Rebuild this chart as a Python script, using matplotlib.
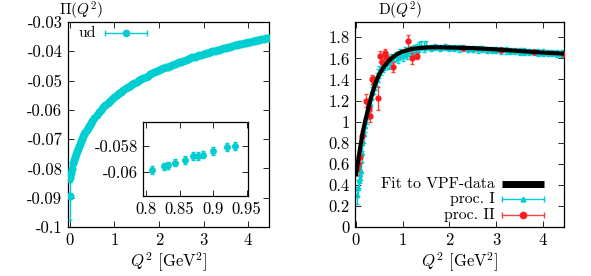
import numpy as np
import matplotlib
matplotlib.use('Agg')
import matplotlib.pyplot as plt
from matplotlib.ticker import FuncFormatter, FixedLocator

plt.rcParams['font.family'] = 'cmr10'
plt.rcParams['mathtext.fontset'] = 'cm'
plt.rcParams['axes.unicode_minus'] = False
plt.rcParams['font.size'] = 12

CYAN = '#00ced1'
RED = '#ff1a1a'

# ---- left panel: Pi(Q^2), ud ----
pi_q2 = [0.0, 0.0, 0.01, 0.03, 0.05, 0.08, 0.10, 0.12, 0.14, 0.16, 0.18, 0.2, 0.225, 0.25,
         0.275, 0.3, 0.325, 0.35, 0.375, 0.4, 0.425, 0.45, 0.475,
         0.5, 0.55, 0.6, 0.65, 0.7, 0.75, 0.8, 0.85, 0.9, 0.95, 1.0, 1.05, 1.1, 1.15, 1.2,
         1.25, 1.3, 1.35, 1.4, 1.45, 1.5, 1.55, 1.6, 1.65, 1.7, 1.75, 1.8, 1.85, 1.9, 1.95,
         2.0, 2.05, 2.1, 2.15, 2.2, 2.25, 2.3, 2.35, 2.4, 2.45, 2.5, 2.55, 2.6, 2.65, 2.7,
         2.75, 2.8, 2.85, 2.9, 2.95, 3.0, 3.05, 3.1, 3.15, 3.2, 3.25, 3.3, 3.35, 3.4, 3.45,
         3.5, 3.55, 3.6, 3.65, 3.7, 3.75, 3.8, 3.85, 3.9, 3.95, 4.0, 4.05, 4.1, 4.15, 4.2,
         4.25, 4.3, 4.35, 4.4, 4.47]
pi_val = [-0.0895, -0.0826, -0.0831, -0.0816, -0.0802, -0.0783, -0.0772, -0.0761, -0.0751,
          -0.0742, -0.0733, -0.0725, -0.0716, -0.0707, -0.0698, -0.0690, -0.0682, -0.0675,
          -0.0668, -0.0662, -0.0656, -0.0650, -0.0644,
          -0.0638, -0.0627, -0.0617, -0.0608, -0.0599, -0.0591, -0.0583, -0.0576, -0.0569,
          -0.0562, -0.0556, -0.0550, -0.0544, -0.0538, -0.0533, -0.0527, -0.0522, -0.0517,
          -0.0513, -0.0508, -0.0504, -0.0499, -0.0495, -0.0491, -0.0487, -0.0483, -0.0479,
          -0.0475, -0.0472, -0.0468, -0.0465, -0.0461, -0.0458, -0.0455, -0.0452, -0.0449,
          -0.0446, -0.0443, -0.0440, -0.0437, -0.0435, -0.0432, -0.0429, -0.0426, -0.0424,
          -0.0421, -0.0419, -0.0416, -0.0414, -0.0411, -0.0409, -0.0407, -0.0405, -0.0402,
          -0.0400, -0.0398, -0.0396, -0.0394, -0.0392, -0.0390, -0.0388, -0.0386, -0.0384,
          -0.0382, -0.0380, -0.0378, -0.0376, -0.0375, -0.0373, -0.0371, -0.0369, -0.0367,
          -0.0366, -0.0364, -0.0362, -0.0361, -0.0359, -0.0357, -0.0356, -0.0353]
pi_err = [0.0082, 0.0020, 0.0015, 0.0012, 0.0010] + [0.0006] * 98

# inset (zoom on 0.8 - 0.95)
in_q2 = [0.8085, 0.827, 0.833, 0.843, 0.858, 0.870, 0.877, 0.885, 0.900, 0.920, 0.933]
in_val = [-0.0599, -0.0596, -0.0595, -0.0593, -0.0591, -0.0588, -0.0588, -0.0587,
          -0.0584, -0.0581, -0.0580]
in_err = [0.0003, 0.00028, 0.00028, 0.00028, 0.00028, 0.00028, 0.00028, 0.00028,
          0.0003, 0.0003, 0.0003]

# ---- right panel: D(Q^2) ----
fit_q2 = [0.0, 0.05, 0.1, 0.15, 0.2, 0.25, 0.3, 0.35, 0.4, 0.45, 0.5, 0.6, 0.7, 0.8,
          0.9, 1.0, 1.2, 1.4, 1.6, 1.8, 2.0, 2.5, 3.0, 3.5, 4.0, 4.45]
fit_val = [0.50, 0.64, 0.78, 0.91, 1.01, 1.10, 1.19, 1.27, 1.34, 1.40, 1.45, 1.52,
           1.575, 1.615, 1.645, 1.665, 1.69, 1.70, 1.705, 1.705, 1.703, 1.697, 1.685,
           1.67, 1.655, 1.645]

p1_q2 = [0.02, 0.04, 0.06, 0.08, 0.10, 0.12, 0.14, 0.17, 0.20, 0.23, 0.26, 0.29, 0.32,
         0.35, 0.38, 0.41, 0.44, 0.47, 0.50, 0.54, 0.58, 0.62, 0.66, 0.70, 0.75, 0.80,
         0.85, 0.90, 0.95, 1.00, 1.05, 1.10, 1.15, 1.20, 1.25, 1.30, 1.35, 1.40, 1.45,
         1.50, 1.60, 1.70, 1.80, 1.90, 2.00, 2.10, 2.20, 2.30, 2.40, 2.50, 2.60, 2.70,
         2.80, 2.90, 3.00, 3.10, 3.20, 3.30, 3.40, 3.50, 3.60, 3.70, 3.80, 3.90, 4.00,
         4.10, 4.20, 4.30, 4.40, 4.45]
p1_val = [0.30, 0.37, 0.45, 0.50, 0.53, 0.70, 0.80, 0.88, 0.96, 1.04, 1.11, 1.17, 1.22,
          1.27, 1.32, 1.36, 1.40, 1.44, 1.47, 1.50, 1.53, 1.55, 1.57, 1.56, 1.60, 1.58,
          1.62, 1.60, 1.64, 1.62, 1.66, 1.64, 1.67, 1.66, 1.68, 1.69, 1.71, 1.72, 1.71,
          1.72, 1.70, 1.71, 1.70, 1.71, 1.70, 1.70, 1.695, 1.70, 1.69, 1.69, 1.685, 1.69,
          1.68, 1.68, 1.68, 1.675, 1.675, 1.67, 1.67, 1.665, 1.665, 1.66, 1.66, 1.655,
          1.655, 1.65, 1.65, 1.645, 1.645, 1.64]
p1_err = [0.08] * 8 + [0.06] * 16 + [0.045] * 16 + [0.03] * 30

p2_q2 = [0.03, 0.05, 0.085, 0.12, 0.21, 0.27, 0.30, 0.35, 0.37, 0.48, 0.51, 0.55, 0.62,
         0.64, 0.80, 1.12, 1.19, 1.30, 2.3, 3.1, 3.8, 4.45]
p2_val = [0.56, 0.60, 0.665, 0.86, 1.20, 1.13, 1.05, 1.40, 1.39, 1.22, 1.62, 1.57, 1.65,
          1.61, 1.52, 1.76, 1.60, 1.62, 1.70, 1.68, 1.66, 1.64]
p2_err = [0.07, 0.07, 0.06, 0.05, 0.06, 0.05, 0.05, 0.04, 0.04, 0.11, 0.05, 0.05, 0.04,
          0.04, 0.05, 0.06, 0.05, 0.03, 0.02, 0.02, 0.02, 0.02]

fig = plt.figure(figsize=(5.91, 2.76), dpi=100)
axL = fig.add_axes([0.1151, 0.1775, 0.3401, 0.7428])
axR = fig.add_axes([0.6007, 0.1775, 0.3536, 0.7428])
axI = fig.add_axes([0.2425, 0.2899, 0.1772, 0.2681])

fmt = FuncFormatter(lambda v, p: '%g' % round(v, 6))

def style(ax):
    ax.tick_params(direction='in', top=True, right=True, length=4, width=0.6,
                   labelsize=12, pad=4)
    for s in ax.spines.values():
        s.set_linewidth(0.9)
    ax.xaxis.set_major_formatter(fmt)
    ax.yaxis.set_major_formatter(fmt)

# left
axL.errorbar(pi_q2, pi_val, yerr=pi_err, fmt='o', color=CYAN, ms=4.8, capsize=1.5,
             elinewidth=1, zorder=3)
axL.set_xlim(-0.04, 4.47)
axL.set_ylim(-0.1, -0.03)
axL.xaxis.set_major_locator(FixedLocator([0, 1, 2, 3, 4]))
axL.yaxis.set_major_locator(FixedLocator(np.arange(-0.1, -0.0299, 0.01)))
style(axL)
axL.set_xlabel(r'$Q^2$ [GeV$^2$]', labelpad=2)
fig.text(81 / 591, 1.0, r'$\Pi(Q^2)$', ha='center', va='top', fontsize=11)

# left legend
LEG = 11.3
axL.text(0.139, 0.946, 'ud', transform=axL.transAxes, ha='right', va='center',
         fontsize=LEG)
axL.plot([0.184, 0.393], [0.946, 0.946], color=CYAN, lw=1, transform=axL.transAxes)
axL.plot([0.184, 0.393], [0.946, 0.946], ls='none', marker='|', ms=4, mew=1,
         color=CYAN, transform=axL.transAxes)
axL.plot([0.288], [0.946], marker='o', ms=4.5, color=CYAN, transform=axL.transAxes)

# inset
axI.errorbar(in_q2, in_val, yerr=in_err, fmt='o', color=CYAN, ms=4, capsize=1.5,
             elinewidth=1)
axI.set_xlim(0.796, 0.952)
axI.set_ylim(-0.06187, -0.05618)
axI.xaxis.set_major_locator(FixedLocator([0.8, 0.85, 0.9, 0.95]))
axI.yaxis.set_major_locator(FixedLocator([-0.06, -0.058]))
style(axI)

# right
axR.errorbar(p1_q2, p1_val, yerr=p1_err, fmt='^', color=CYAN, ms=3, capsize=1.5,
             elinewidth=1, zorder=2)
axR.errorbar(p2_q2, p2_val, yerr=p2_err, fmt='o', color=RED, ecolor='#f04545', ms=3.5,
             capsize=1.5, elinewidth=1, zorder=3)
axR.plot(fit_q2, fit_val, color='black', lw=3, zorder=4)
axR.set_xlim(-0.02, 4.45)
axR.set_ylim(0, 1.945)
axR.xaxis.set_major_locator(FixedLocator([0, 1, 2, 3, 4]))
axR.yaxis.set_major_locator(FixedLocator(np.arange(0, 1.81, 0.2)))
style(axR)
axR.set_xlabel(r'$Q^2$ [GeV$^2$]', labelpad=2)
fig.text(400 / 591, 1.0, r'D$(Q^2)$', ha='center', va='top', fontsize=11)

# right legend
tr = axR.transAxes
x0, x1, xm = 0.705, 0.904, 0.805
axR.text(0.670, 0.210, 'Fit to VPF-data', transform=tr, ha='right', va='center',
         fontsize=LEG)
axR.plot([x0, x1], [0.210, 0.210], color='black', lw=5, solid_capstyle='butt',
         transform=tr)
axR.text(0.670, 0.135, 'proc. I', transform=tr, ha='right', va='center', fontsize=LEG)
axR.plot([x0, x1], [0.135, 0.135], color=CYAN, lw=1, transform=tr)
axR.plot([x0, x1], [0.135, 0.135], ls='none', marker='|', ms=4, mew=1, color=CYAN,
         transform=tr)
axR.plot([xm], [0.135], marker='^', ms=3.5, color=CYAN, transform=tr)
axR.text(0.670, 0.059, 'proc. II', transform=tr, ha='right', va='center', fontsize=LEG)
axR.plot([x0, x1], [0.059, 0.059], color='#f04545', lw=1, transform=tr)
axR.plot([x0, x1], [0.059, 0.059], ls='none', marker='|', ms=4, mew=1, color='#f04545',
         transform=tr)
axR.plot([xm], [0.059], marker='o', ms=4.5, color=RED, transform=tr)

fig.savefig('out.png', dpi=100)
